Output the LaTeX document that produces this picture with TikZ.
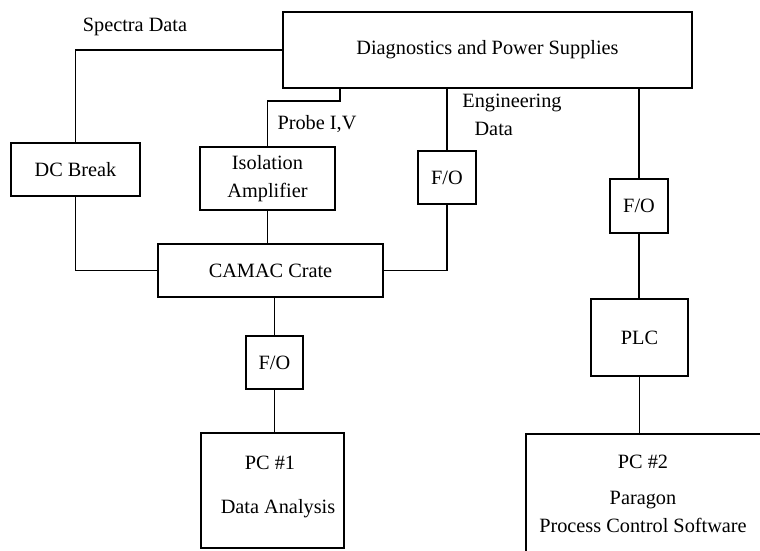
\documentclass[tikz,border=0pt]{standalone}
\usepackage{fontspec}
\setmainfont{Liberation Serif}
\begin{document}
\begin{tikzpicture}[x=1pt,y=-1pt,
  box/.style={draw,line width=1.3pt,inner sep=0pt,align=center},
  lbl/.style={inner sep=0pt,align=center},
  wire/.style={line width=1.3pt},
  font=\fontsize{20.3}{27.5}\selectfont]
\useasboundingbox (0,0) rectangle (760,550);
\clip (0,0) rectangle (760,550);
% boxes
\node[box,minimum width=409pt,minimum height=76pt] (top) at (487.5,50) {Diagnostics and Power Supplies};
\node[box,minimum width=129pt,minimum height=53pt] (dc) at (75.5,169.5) {DC Break};
\node[box,minimum width=135pt,minimum height=63pt] (iso) at (267.5,178.5) {Isolation\\Amplifier};
\node[box,minimum width=225pt,minimum height=53pt] (camac) at (270.5,270.5) {CAMAC Crate};
\node[box,minimum width=58pt,minimum height=53pt] (fo1) at (447,177.5) {F/O};
\node[box,minimum width=58pt,minimum height=54pt] (fo2) at (639,206) {F/O};
\node[box,minimum width=97pt,minimum height=77pt] (plc) at (639.5,337.5) {PLC};
\node[box,minimum width=57pt,minimum height=53pt] (fo3) at (274.5,362.5) {F/O};
\node[box,minimum width=143pt,minimum height=115pt] (pc1) at (272.5,490.5) {};
\node[box,minimum width=250pt,minimum height=131pt] (pc2) at (651,499.5) {};
% texts inside PC boxes
\node[lbl] (pc1a) at (270,463) {PC \#1};
\node[lbl] (pc1b) at (278,509) {Data Analysis};
\node[lbl] (pc2a) at (643,462) {PC \#2};
\node[lbl] (pc2b) at (643,512) {Paragon\\Process Control Software};
% labels
\node[lbl] (spec) at (135,27) {Spectra Data};
\node[lbl] (probe) at (317,124) {Probe I,V};
\node[lbl,align=left] (eng) at (512,115) {Engineering\\\hspace*{0.6em}Data};
% connectors
\coordinate (p1) at (340,101);
\draw[wire] (top.west) -| (dc.north);
\draw[wire] (top.south -| p1) -- (p1) -| (iso.north);
\draw[wire] (fo1.north) -- (fo1.north |- top.south);
\draw[wire] (fo2.north) -- (fo2.north |- top.south);
\draw[wire] (fo2.south) -- (fo2.south |- plc.north);
\draw[wire] (plc.south) -- (plc.south |- pc2.north);
\draw[wire] (dc.south) |- (camac.west);
\draw[wire] (iso.south) -- (iso.south |- camac.north);
\draw[wire] (fo1.south) |- (camac.east);
\draw[wire] (camac.south) -- (camac.south -| fo3.north) -- (fo3.north);
\draw[wire] (fo3.south) -- (fo3.south |- pc1.north);
\end{tikzpicture}
\end{document}
